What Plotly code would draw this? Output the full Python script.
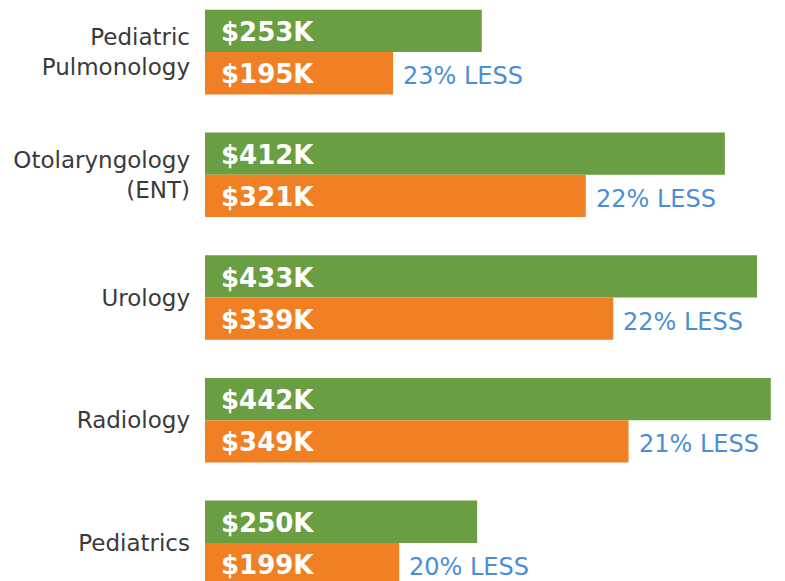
import plotly.graph_objects as go

categories = ["Pediatric<br>Pulmonology", "Otolaryngology<br>(ENT)", "Urology", "Radiology", "Pediatrics"]
green_values = [253, 412, 433, 442, 250]
orange_values = [195, 321, 339, 349, 199]
green_labels = ["$253K", "$412K", "$433K", "$442K", "$250K"]
orange_labels = ["$195K", "$321K", "$339K", "$349K", "$199K"]
less_labels = ["23% LESS", "22% LESS", "22% LESS", "21% LESS", "20% LESS"]

GREEN = "#6a9e42"
ORANGE = "#f08023"
BLUE = "#4a8fd4"
GRAY = "#3a3a3a"
FONT = "DejaVu Sans"

fig = go.Figure()
fig.add_trace(go.Bar(y=categories, x=green_values, orientation="h",
                     marker=dict(color=GREEN, line=dict(width=0)),
                     hoverinfo="skip", showlegend=False))
fig.add_trace(go.Bar(y=categories, x=orange_values, orientation="h",
                     marker=dict(color=ORANGE, line=dict(width=0)),
                     hoverinfo="skip", showlegend=False))

annotations = []
for cat, gl, ol, ov, ll in zip(categories, green_labels, orange_labels, orange_values, less_labels):
    annotations.append(dict(xref="paper", x=0, y=cat, yref="y", text=gl, showarrow=False,
                            xanchor="left", yanchor="middle", xshift=14, yshift=20,
                            font=dict(family=FONT, size=26, color="white", weight="bold")))
    annotations.append(dict(xref="paper", x=0, y=cat, yref="y", text=ol, showarrow=False,
                            xanchor="left", yanchor="middle", xshift=14, yshift=-22,
                            font=dict(family=FONT, size=26, color="white", weight="bold")))
    annotations.append(dict(xref="x", x=ov, y=cat, yref="y", text=ll, showarrow=False,
                            xanchor="left", yanchor="middle", xshift=8, yshift=-24,
                            font=dict(family=FONT, size=24, color=BLUE)))

fig.update_layout(
    width=785, height=581,
    margin=dict(l=205, r=2, t=0, b=0),
    paper_bgcolor="white", plot_bgcolor="white",
    barmode="group", bargap=0.31, bargroupgap=0,
    xaxis=dict(visible=False, range=[72, 450]),
    yaxis=dict(range=[4.31, -0.424], showgrid=False, zeroline=False, showline=False,
               ticks="", ticklabelstandoff=14,
               tickfont=dict(family=FONT, size=23, color=GRAY)),
    annotations=annotations,
    showlegend=False,
)

fig.write_html("out.html", config={"displayModeBar": False},
               post_script="document.body.style.margin='0';document.body.style.padding='0';")
